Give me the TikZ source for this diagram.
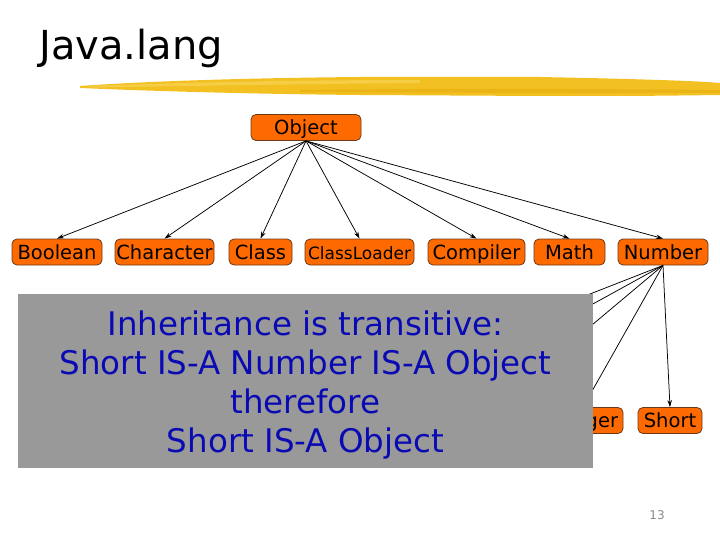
\documentclass[tikz,border=0pt]{standalone}
\usepackage{fontspec}
\setmainfont{DejaVu Sans}
\usetikzlibrary{arrows.meta}

\definecolor{nodefill}{HTML}{FF6A00}
\definecolor{nodeedge}{HTML}{6B3A1A}
\definecolor{notegray}{HTML}{999999}
\definecolor{noteblue}{HTML}{0A0AB4}
\definecolor{brushmain}{HTML}{F2C020}
\definecolor{brushlight}{HTML}{F8D860}
\definecolor{brushdark}{HTML}{E6AC10}
\definecolor{pagegray}{HTML}{8A8A8A}

\begin{document}
\begin{tikzpicture}[x=1pt,y=-1pt,
  cls/.style={draw=nodeedge, fill=nodefill, line width=0.8pt,
    rounded corners=5pt, minimum height=26pt, inner sep=0pt,
    font=\fontsize{19.5}{22}\selectfont, text height=16pt, text depth=2pt},
  inh/.style={draw=black, line width=0.75pt,
    -{Stealth[length=7pt,width=4.5pt]}},
  ]
\useasboundingbox (0,0) rectangle (720,540);

% title and brush underline
\fill[brushmain] (80,86) .. controls (150,81) and (250,78) .. (360,77)
  -- (540,77) .. controls (640,79) and (700,81) .. (720,83)
  -- (720,95) .. controls (640,96) .. (540,96) -- (360,95)
  .. controls (250,94) and (150,91) .. (80,88) -- cycle;
\fill[brushlight, opacity=0.6] (90,86) .. controls (200,82) and (300,80) .. (420,80)
  -- (420,83) .. controls (300,84) and (200,86) .. (90,87.5) -- cycle;
\fill[brushdark, opacity=0.6] (300,90) .. controls (450,88) and (600,89) .. (720,90)
  -- (720,93) .. controls (600,93) and (450,93) .. (300,92) -- cycle;
\node[anchor=base west, inner sep=0pt, font=\fontsize{40}{44}\selectfont]
  (title) at (39,60) {Java.lang};

% class nodes
\node[cls, minimum width=110pt] (object) at (306,127.5) {Object};
\node[cls, minimum width=90pt] (boolean) at (57,252) {Boolean};
\node[cls, minimum width=99pt] (character) at (164.5,252) {Character};
\node[cls, minimum width=63pt] (class) at (260.5,252) {Class};
\node[cls, minimum width=109pt, font=\fontsize{17}{20}\selectfont]
  (classloader) at (359.5,252) {ClassLoader};
\node[cls, minimum width=97pt] (compiler) at (476.5,252) {Compiler};
\node[cls, minimum width=71pt] (math) at (569.5,252) {Math};
\node[cls, minimum width=90pt] (number) at (663,252) {Number};

\node[cls, minimum width=80pt] (integer) at (583,420.5) {Integer};
\node[cls, minimum width=64pt] (short) at (670,420.5) {Short};
\coordinate (byte) at (299,408);
\coordinate (double) at (404,408);
\coordinate (float) at (493,408);

% inheritance connectors
\foreach \n in {boolean,character,class,classloader,compiler,math,number}
  \draw[inh] (object.south) -- (\n.north);
\foreach \n in {byte,double,float}
  \draw[inh] (number.south) -- (\n);
\draw[inh] (number.south) -- (integer.north);
\draw[inh] (number.south) -- (short.north);

% note panel
\node[fill=notegray, minimum width=575pt, minimum height=174pt, inner sep=0pt]
  (note) at (305.5,381) {};
\node[text=noteblue, align=center, inner sep=0pt,
  font=\fontsize{32.5}{38.7}\selectfont] (notetext) at (305.5,385)
  {Inheritance is transitive:\\Short IS-A Number IS-A Object\\therefore\\Short IS-A Object};

% page number
\node[text=pagegray, font=\fontsize{12}{14}\selectfont] (page) at (657,515) {13};
\end{tikzpicture}
\end{document}
